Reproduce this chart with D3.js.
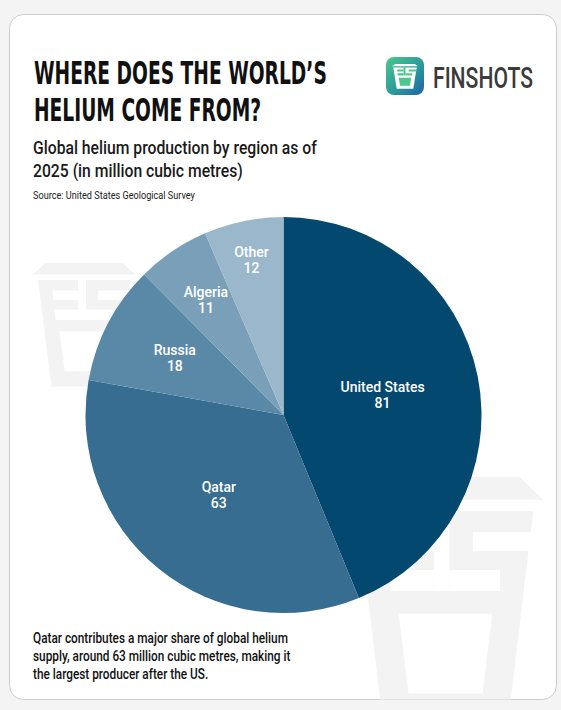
<!DOCTYPE html>
<html>
<head>
<meta charset="utf-8">
<script src="https://cdn.jsdelivr.net/npm/d3@7"></script>
<style>
  html, body { margin: 0; padding: 0; background: #f4f4f4; }
  svg { display: block; }
</style>
</head>
<body>
<div id="chart"></div>
<script>
// data
var regions = ["United States", "Qatar", "Russia", "Algeria", "Other"];
var production = [81, 63, 18, 11, 12];
var sliceColors = ["#03486f", "#366d91", "#5a89a8", "#7a9fb8", "#9bb7cb"];
// how far out each label sits (fraction of radius)
var labelRadius = [0.51, 0.52, 0.62, 0.70, 0.80];

var titleLines = ["WHERE DOES THE WORLD\u2019S", "HELIUM COME FROM?"];
var subtitleLines = ["Global helium production by region as of", "2025 (in million cubic metres)"];
var sourceText = "Source: United States Geological Survey";
var noteLines = ["Qatar contributes a major share of global helium",
                 "supply, around 63 million cubic metres, making it",
                 "the largest producer after the US."];

var width = 561;
var height = 710;
var cardX = 9.5, cardY = 14.5, cardW = 547, cardH = 685;
var pieCx = 283.5, pieCy = 415, pieR = 198;

var condensed = "'Liberation Sans Narrow', 'DejaVu Sans Condensed', sans-serif";
var din = "Roboto, 'Noto Sans', sans-serif";

var svg = d3.select("#chart")
            .append("svg")
            .attr("width", width)
            .attr("height", height);

var defs = svg.append("defs");
defs.append("clipPath")
    .attr("id", "cardClip")
    .append("rect")
    .attr("x", cardX).attr("y", cardY)
    .attr("width", cardW).attr("height", cardH)
    .attr("rx", 14);

var grad = defs.append("linearGradient")
               .attr("id", "logoGrad")
               .attr("gradientUnits", "userSpaceOnUse")
               .attr("x1", 386).attr("y1", 57)
               .attr("x2", 424).attr("y2", 95);
grad.append("stop").attr("offset", "0%").attr("stop-color", "#4cc88c");
grad.append("stop").attr("offset", "55%").attr("stop-color", "#2c9a9a");
grad.append("stop").attr("offset", "100%").attr("stop-color", "#1d62a6");

// card
svg.append("rect")
   .attr("x", cardX).attr("y", cardY)
   .attr("width", cardW).attr("height", cardH)
   .attr("rx", 14)
   .attr("fill", "#ffffff")
   .attr("stroke", "#cdcdcd")
   .attr("stroke-width", 1);

// logo shape in a 100 x 130 box
var logoShape = [
    [[12, 0], [88, 0], [100, 12], [0, 12]],
    [[5, 18], [95, 18], [82, 130], [18, 130]]
];
var logoHoles = [
    [[26, 72], [74, 72], [69, 114], [31, 114]],
    [[19, 29], [44, 29], [44, 39], [20, 39]],
    [[21, 49], [44, 49], [44, 60], [22, 60]],
    [[44, 17], [52, 17], [52, 60], [44, 60]],
    [[64, 29], [96, 29], [94, 39], [64, 39]],
    [[52, 49], [78, 49], [78, 60], [52, 60]]
];
var line = d3.line();

function drawLogo(g, x, y, sx, sy, fg, bg) {
    var grp = g.append("g")
               .attr("transform", "translate(" + x + "," + y + ") scale(" + sx + "," + sy + ")");
    grp.selectAll("path.fg")
       .data(logoShape)
       .enter()
       .append("path")
       .attr("class", "fg")
       .attr("d", function(d) { return line(d) + "Z"; })
       .attr("fill", fg);
    grp.selectAll("path.bg")
       .data(logoHoles)
       .enter()
       .append("path")
       .attr("class", "bg")
       .attr("d", function(d) { return line(d) + "Z"; })
       .attr("fill", bg);
}

// squeeze a text horizontally so its first line spans w pixels
function squeezeText(x, y, lines, w, font, size, weight, color, lineGap) {
    var g = svg.append("g");
    var t = g.append("text")
             .attr("font-family", font)
             .attr("font-weight", weight)
             .attr("font-size", size)
             .attr("fill", color);
    t.selectAll("tspan")
     .data(lines)
     .enter()
     .append("tspan")
     .attr("x", 0)
     .attr("y", function(d, i) { return i * (lineGap || 0); })
     .text(function(d) { return d; });
    var natural = t.select("tspan").node().getComputedTextLength();
    g.attr("transform", "translate(" + x + "," + y + ") scale(" + (w / natural) + ",1)");
    return g;
}

// watermarks
var wm = svg.append("g").attr("clip-path", "url(#cardClip)");
drawLogo(wm, 33, 263, 1.02, 0.95, "#f3f3f3", "#ffffff");
drawLogo(wm, 348, 477, 1.95, 1.9, "#f3f3f3", "#ffffff");

// pie
var pie = d3.pie().sort(null).value(function(d) { return d; });
var arcs = pie(production);
var arc = d3.arc().innerRadius(0).outerRadius(pieR);

var pieG = svg.append("g")
              .attr("transform", "translate(" + pieCx + "," + pieCy + ")");
pieG.selectAll("path")
    .data(arcs)
    .enter()
    .append("path")
    .attr("d", arc)
    .attr("fill", function(d, i) { return sliceColors[i]; });

var labels = pieG.selectAll("g.lab")
                 .data(arcs)
                 .enter()
                 .append("g")
                 .attr("class", "lab")
                 .attr("transform", function(d, i) {
                     var r = pieR * labelRadius[i];
                     var c = d3.arc().innerRadius(r).outerRadius(r).centroid(d);
                     return "translate(" + c[0] + "," + c[1] + ")";
                 });
labels.append("text")
      .attr("y", -3)
      .attr("text-anchor", "middle")
      .attr("fill", "#ffffff")
      .attr("font-family", din)
      .attr("font-weight", 500)
      .attr("font-size", 14)
      .text(function(d, i) { return regions[i]; });
labels.append("text")
      .attr("y", 13)
      .attr("text-anchor", "middle")
      .attr("fill", "#ffffff")
      .attr("font-family", din)
      .attr("font-weight", 500)
      .attr("font-size", 14)
      .text(function(d) { return d.value; });

// title
squeezeText(34, 84, titleLines, 293, condensed, 32.5, 700, "#111111", 37);

// subtitle
squeezeText(33, 154, subtitleLines, 284, din, 18, 500, "#1a1a1a", 23);
squeezeText(33, 199, [sourceText], 162, din, 11, 400, "#222222");

// brand
svg.append("rect")
   .attr("x", 386).attr("y", 57)
   .attr("width", 38).attr("height", 38)
   .attr("rx", 8)
   .attr("fill", "url(#logoGrad)");
drawLogo(svg, 392, 64, 0.26, 0.19, "#ffffff", "url(#logoGrad)");
squeezeText(433, 88, ["FINSHOTS"], 100, din, 30, 500, "#3b3b3b");

// note
squeezeText(33, 643, noteLines, 255, din, 15, 500, "#111111", 18);
</script>
</body>
</html>
